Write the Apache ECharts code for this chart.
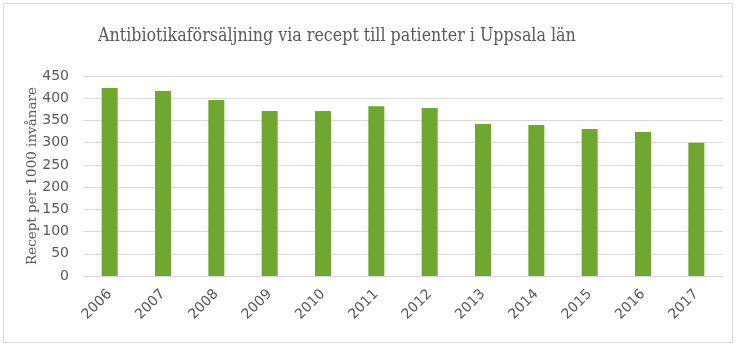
<!DOCTYPE html>
<html><head><meta charset="utf-8">
<script src="https://cdn.jsdelivr.net/npm/echarts@6/dist/echarts.min.js"></script>
<style>html,body{margin:0;padding:0;background:#fff}#c{width:737px;height:348px}</style>
</head><body><div id="c"></div>
<script>
const years = ['2006','2007','2008','2009','2010','2011','2012','2013','2014','2015','2016','2017'];
const values = [423, 416, 396, 371, 371, 382, 378, 342, 340, 331, 324, 300];
const titleText = 'Antibiotikaförsäljning via recept till patienter i Uppsala län';
const yAxisName = 'Recept per 1000 invånare';

const chart = echarts.init(document.getElementById('c'));
chart.setOption({
  animation: false,
  graphic: [{type:'rect', shape:{x:3.5,y:3.5,width:729,height:339}, style:{fill:'none', stroke:'#d9d9d9', lineWidth:1}}],
  title: {text: titleText, left: 93, top: 22, textStyle:{fontFamily:'DejaVu Serif Condensed', fontWeight:'normal', fontSize:17.7, color:'#595959'}},
  grid: {left: 83, right: 14, top: 76, bottom: 72},
  xAxis: {type:'category', data: years,
    axisLine:{lineStyle:{color:'#d9d9d9'}}, axisTick:{show:false},
    axisLabel:{rotate:45, color:'#595959', fontFamily:'DejaVu Sans', fontSize:14, margin:16}},
  yAxis: {type:'value', min:0, max:450, interval:50,
    name: yAxisName, nameLocation:'middle', nameGap:44, nameMoveOverlap:false,
    nameTextStyle:{fontFamily:'DejaVu Serif', fontSize:13.5, color:'#595959'},
    axisLine:{show:false}, axisTick:{show:false},
    splitLine:{lineStyle:{color:'#d9d9d9'}},
    axisLabel:{color:'#595959', fontFamily:'DejaVu Sans', fontSize:14, margin:14}},
  series: [{type:'bar', data: values, barWidth: 16, itemStyle:{color:'#6fa72f'}}]
});
</script></body></html>
